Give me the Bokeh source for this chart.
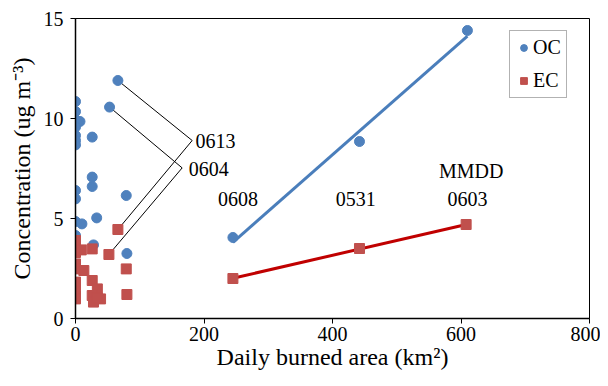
import numpy as np
from bokeh.plotting import figure
from bokeh.models import Range1d, FixedTicker, Legend, LegendItem, Label
from bokeh.embed import file_html
from bokeh.resources import INLINE

# ---- data ----
oc_x = [0, 0, 0, 7, 0, 0, 0, 0, 0, 0, 0, 0, 10, 26, 26, 26, 33, 28, 53, 66, 79, 80, 245, 442, 610]
oc_y = [10.85, 10.35, 9.95, 9.85, 9.57, 9.15, 8.9, 8.68, 6.4, 5.98, 4.85, 4.15, 4.73, 9.07, 7.07, 6.6, 5.03, 3.68, 10.57, 11.9, 6.15, 3.25, 4.05, 8.85, 14.4]

ec_x = [0, 0, 0, 0, 0, 0, 0, 0, 0, 9, 13, 26, 66, 52, 79, 26, 34, 26, 39, 28, 80, 34, 245, 442, 608]
ec_y = [3.9, 3.65, 3.3, 2.73, 2.48, 1.82, 1.65, 1.15, 0.98, 3.43, 2.4, 3.48, 4.45, 3.2, 2.48, 1.9, 1.48, 1.15, 0.98, 0.82, 1.2, 1.03, 2.0, 3.5, 4.7]

# fire-day points used for the trend lines (MMDD labels)
fire_dates = ["0608", "0531", "0603"]
fire_x = [245, 442, 610]
fire_oc = [4.05, 8.85, 14.4]
fire_ec = [2.0, 3.5, 4.7]

# labelled near-zero days: (OC point, EC point)
lab_dates = ["0613", "0604"]
lab_oc = [(66, 11.9), (53, 10.57)]
lab_ec = [(66, 4.45), (52, 3.2)]

x_ticks = [0, 200, 400, 600, 800]
y_ticks = [0, 5, 10, 15]

FONT = "Liberation Serif"
BLUE = "#4F81BD"
RED = "#C0504D"

p = figure(width=600, height=378, x_range=Range1d(0, 800), y_range=Range1d(0, 15),
           output_backend="svg", toolbar_location=None,
           min_border_left=75, min_border_right=11, min_border_top=18, min_border_bottom=60)
p.background_fill_color = "white"
p.border_fill_color = "white"
p.outline_line_color = "black"
p.outline_line_width = 1
p.xgrid.visible = False
p.ygrid.visible = False

for ax, ticks in ((p.xaxis, x_ticks), (p.yaxis, y_ticks)):
    ax.ticker = FixedTicker(ticks=ticks)
    ax.minor_tick_line_color = None
    ax.major_tick_in = 0
    ax.major_tick_out = 5
    ax.axis_line_color = "black"
    ax.axis_line_width = 1.5
    ax.major_tick_line_color = "black"
    ax.major_tick_line_width = 1
    ax.major_label_text_font = FONT
    ax.major_label_text_font_size = "20px"
    ax.major_label_text_color = "black"
    ax.axis_label_text_font = FONT
    ax.axis_label_text_font_size = "24px"
    ax.axis_label_text_font_style = "normal"
    ax.axis_label_text_color = "black"

p.xaxis.axis_label = "Daily burned area (km\u00b2)"
p.yaxis.axis_label = "Concentration (ug m\u207b\u00b3)"
p.xaxis.major_label_standoff = 3
p.yaxis.major_label_standoff = 7
p.xaxis.axis_label_standoff = 0
p.yaxis.axis_label_standoff = 6

# leader lines for 0613 / 0604
lab_vertex = [(181.6, 8.9), (166, 7.53)]
lab_text_pos = [(186.8, 8.9), (176.3, 7.49)]
for d, o, e, v, t in zip(lab_dates, lab_oc, lab_ec, lab_vertex, lab_text_pos):
    p.line([o[0], v[0], e[0]], [o[1], v[1], e[1]], line_color="black", line_width=1)
    p.add_layout(Label(x=t[0], y=t[1], text=d, text_font=FONT, text_font_size="20px",
                       text_color="black", text_align="left", text_baseline="middle"))

# trend lines (linear fits on fire days)
fx = np.array(fire_x, dtype=float)
k1, b1 = np.polyfit(fx, np.array(fire_oc), 1)
k2, b2 = np.polyfit(fx, np.array(fire_ec), 1)
xs = np.array([fx.min(), fx.max()])
p.line(xs, k1 * xs + b1, line_color="#4A7EBB", line_width=3)
p.line(xs, k2 * xs + b2, line_color="#C00000", line_width=3)

r_oc = p.scatter(oc_x, oc_y, marker="circle", size=10, fill_color=BLUE, line_color=BLUE)
r_ec = p.scatter(ec_x, ec_y, marker="square", size=10, fill_color=RED, line_color=RED)

# MMDD labels
fire_lab_pos = [(253, 6.0), (436, 6.0), (610, 6.0)]
for d, (lx, ly) in zip(fire_dates, fire_lab_pos):
    p.add_layout(Label(x=lx, y=ly, text=d, text_font=FONT, text_font_size="20px",
                       text_color="black", text_align="center", text_baseline="middle"))
p.add_layout(Label(x=616, y=7.4, text="MMDD", text_font=FONT, text_font_size="20px",
                   text_color="black", text_align="center", text_baseline="middle"))

legend = Legend(items=[LegendItem(label="OC", renderers=[r_oc]),
                       LegendItem(label="EC", renderers=[r_ec])],
                location=(434, 220))
legend.label_text_font = FONT
legend.label_text_font_size = "20px"
legend.label_text_color = "black"
legend.glyph_width = 17
legend.glyph_height = 17
legend.label_standoff = 1
legend.padding = 5
legend.spacing = 10
legend.margin = 0
legend.border_line_color = "#666666"
legend.border_line_width = 1
legend.background_fill_color = "white"
legend.background_fill_alpha = 1
p.add_layout(legend, "center")

open("out.html", "w").write(file_html(p, INLINE))
